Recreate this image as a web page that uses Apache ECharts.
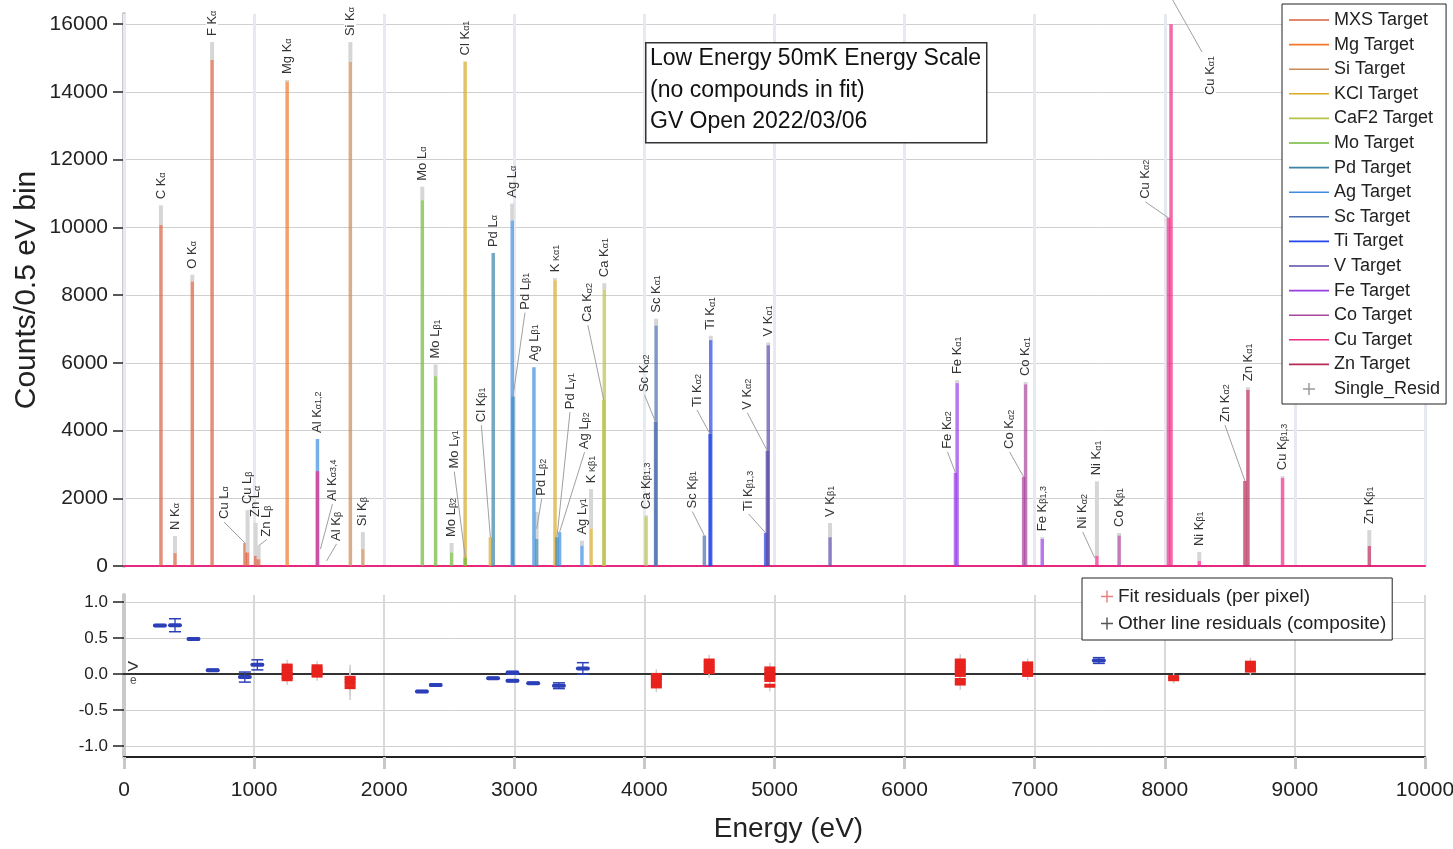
<!DOCTYPE html>
<html><head><meta charset="utf-8">
<script src="https://cdn.jsdelivr.net/npm/echarts@6/dist/echarts.min.js"></script>
<style>html,body{margin:0;padding:0;background:#fff}#c{width:1453px;height:849px}</style>
</head><body><div id="c"></div>
<script>
// ================= DATA =================
const targetNames = ['MXS Target','Mg Target','Si Target','KCl Target','CaF2 Target','Mo Target','Pd Target','Ag Target','Sc Target','Ti Target','V Target','Fe Target','Co Target','Cu Target','Zn Target'];
// peaks: [energy (eV), counts per 0.5 eV bin, fit-marker top (counts) or null]
const mxsPeaks  = [[284,10070,10650],[392,380,885],[525,8400,8600],[677,14940,15470],[930,680,null],[950,400,1650],[1012,300,1270],[1035,200,600]];
const mgPeaks   = [[1254,14300,14350]];
const siPeaks   = [[1740,14880,15470],[1836,500,1000]];
const kclPeaks  = [[2622,14900,null],[2816,850,null],[3313,8440,8500],[3590,1100,2270]];
const caf2Peaks = [[3688,4900,null],[3692,8150,8350],[4013,1450,1500]];
const moPeaks   = [[2293,10800,11200],[2395,5600,5950],[2518,400,680],[2623,250,null]];
const pdPeaks   = [[2838,9240,null],[2990,5000,null],[3172,800,1600],[3328,850,null]];
const agPeaks   = [[1487,3750,null],[2984,10200,10700],[3151,5870,null],[3348,1000,null],[3520,600,750]];
const scPeaks   = [[4086,4250,null],[4090,7100,7300],[4461,900,null]];
const tiPeaks   = [[4504,3900,null],[4510,6670,6800],[4932,975,null]];
const vPeaks    = [[4945,3400,null],[4952,6520,6600],[5427,850,1270]];
const fePeaks   = [[6391,2750,null],[6404,5400,5490],[7058,800,850]];
const coPeaks   = [[6915,2630,null],[6930,5370,5430],[7649,900,975]];
const cuPeaks   = [[1487,2800,null],[7478,300,2500],[8028,10280,null],[8048,16000,null],[8265,150,410],[8905,2600,2650]];
const znPeaks   = [[8616,2510,null],[8639,5200,5280],[9572,590,1060]];

// line labels: [energy, anchor counts, text]
const lineLabels = [
 [284,10650,'C Kα'],[392,885,'N Kα'],[525,8600,'O Kα'],[677,15470,'F Kα'],
 [930,680,'Cu Lα'],[950,1650,'Cu Lβ'],[1012,1270,'Zn Lα'],[1035,600,'Zn Lβ'],
 [1254,14350,'Mg Kα'],[1487,3750,'Al Kα1,2'],[1510,500,'Al Kα3,4'],[1557,150,'Al Kβ'],
 [1740,15470,'Si Kα'],[1836,1000,'Si Kβ'],
 [2293,11200,'Mo Lα'],[2395,5950,'Mo Lβ1'],[2518,680,'Mo Lβ2'],[2623,250,'Mo Lγ1'],
 [2622,14900,'Cl Kα1'],[2816,850,'Cl Kβ1'],
 [2838,9240,'Pd Lα'],[2984,10700,'Ag Lα'],[2990,5000,'Pd Lβ1'],[3151,5870,'Ag Lβ1'],
 [3172,1100,'Pd Lβ2'],[3313,8500,'K Kα1'],[3328,850,'Pd Lγ1'],[3348,1000,'Ag Lβ2'],
 [3520,750,'Ag Lγ1'],[3590,2270,'K Kβ1'],[3688,4900,'Ca Kα2'],[3692,8350,'Ca Kα1'],
 [4013,1500,'Ca Kβ1,3'],[4086,4250,'Sc Kα2'],[4090,7300,'Sc Kα1'],[4461,900,'Sc Kβ1'],
 [4504,3900,'Ti Kα2'],[4510,6800,'Ti Kα1'],[4932,975,'Ti Kβ1,3'],
 [4945,3400,'V Kα2'],[4952,6600,'V Kα1'],[5427,1270,'V Kβ1'],
 [6391,2750,'Fe Kα2'],[6404,5490,'Fe Kα1'],[6915,2630,'Co Kα2'],[6930,5430,'Co Kα1'],
 [7058,850,'Fe Kβ1,3'],[7461,240,'Ni Kα2'],[7478,2500,'Ni Kα1'],[7649,975,'Co Kβ1'],
 [8028,10280,'Cu Kα2'],[8048,16800,'Cu Kα1'],[8265,410,'Ni Kβ1'],
 [8616,2510,'Zn Kα2'],[8639,5280,'Zn Kα1'],[8905,2650,'Cu Kβ1,3'],[9572,1060,'Zn Kβ1']
];

// residuals, other lines (composite): [energy, residual, error]
const otherResid = [[276,0.676,0.012],[392,0.68,0.09],[534,0.49,0.012],[682,0.056,0.012],[929,-0.04,0.07],[1025,0.13,0.07],
  [2290,-0.24,0.012],[2396,-0.15,0.012],[2837,-0.056,0.012],[2986,0.02,0.02],[2986,-0.09,0.012],[3145,-0.125,0.012],
  [3343,-0.16,0.04],[3527,0.08,0.08],[7493,0.19,0.04]];
// residuals, fit (per pixel): one energy per fitted line, list of per-pixel residuals, error
const fitResidEnergy = [1254,1484,1738,4092,4498,4964,6428,6946,8068,8658];
const fitResidValues = [[0.12,0.08,0.04,0,-0.04,-0.07],[0.11,0.07,0.04,0.01,-0.02],[-0.05,-0.09,-0.13,-0.18],
  [-0.01,-0.05,-0.09,-0.13,-0.17],[0.19,0.15,0.11,0.07,0.03],[0.08,0.04,0,-0.04,-0.08,-0.16],
  [0.19,0.15,0.11,0.07,0.03,-0.01,-0.08,-0.13],[0.15,0.11,0.07,0.03,-0.01],[-0.04,-0.07],[0.16,0.12,0.08,0.05]];
const fitResidError = [0.08,0.07,0.18,0.08,0.08,0.08,0.09,0.07,0.06,0.07];

const countTicks = [0,2000,4000,6000,8000,10000,12000,14000,16000];
const residTicks = [-1,-0.5,0,0.5,1];

// ================= STYLE / LAYOUT =================
const targetPeaks = [mxsPeaks,mgPeaks,siPeaks,kclPeaks,caf2Peaks,moPeaks,pdPeaks,agPeaks,scPeaks,tiPeaks,vPeaks,fePeaks,coPeaks,cuPeaks,znPeaks];
const targetColors = ['#d8603f','#f07a2a','#c98a55','#d9a827','#b9c24a','#6fb83a','#3a84a8','#3d8ee0','#4a6fb0','#2545e8','#5a4aa8','#9a3fe6','#a8459e','#ee2a86','#b82a55'];
const FONT = '"Liberation Sans", Arial, sans-serif';
// label start offset (px) from anchor, optional leader end offset
const leaderLayout = {
 'Cu Lα':[-21,-23],'Zn Lβ':[8,-8],'Al Kα3,4':[12,-47],'Al Kβ':[10,-19],'Mo Lγ1':[-11,-88],
 'Cl Kβ1':[-9,-114],'Pd Lβ1':[12,-86],'Pd Lβ2':[5,-32],'Pd Lγ1':[13,-127],'Ag Lβ2':[25,-82],
 'Ca Kα2':[-16,-77],'Sc Kα2':[-11,-29],'Sc Kβ1':[-12,-26],'Ti Kα2':[-13,-26],'Ti Kβ1,3':[-17,-21],
 'V Kα2':[-20,-40],'Fe Kα2':[-8,-23],'Co Kα2':[-14,-27],'Ni Kα2':[-12,-28],'Cu Kα2':[-23,-18],
 'Cu Kα1':[39,99,31,55],'Zn Kα2':[-20,-58]
};
function splitLabel(s){ const m = s.match(/^(.*?[KL])(.*)$/); return m ? [m[1], m[2]] : [s, '']; }

function peakRenderer(color){
  return function(params, api){
    const e = api.value(0), h = api.value(1), t = api.value(2);
    const base = api.coord([e, 0]), top = api.coord([e, h]);
    const children = [];
    if (isFinite(t) && t > h) {
      const st = api.coord([e, t]);
      children.push({type:'line', shape:{x1:st[0],y1:st[1],x2:top[0],y2:top[1]}, style:{stroke:'#d6d6d6', lineWidth:4}});
    }
    children.push({type:'line', shape:{x1:base[0],y1:base[1],x2:top[0],y2:top[1]}, style:{stroke:color, lineWidth:3.5, opacity:0.7}});
    return {type:'group', children};
  };
}
function labelRender(params, api){
  const item = lineLabels[params.dataIndex];
  const p = api.coord([api.value(0), api.value(1)]);
  const lay = leaderLayout[item[2]];
  const parts = splitLabel(item[2]);
  const children = [];
  let lx = p[0], ly = p[1] - 5;
  if (lay) {
    lx = p[0] + lay[0]; ly = p[1] + lay[1];
    const ex = lay.length > 2 ? p[0] + lay[2] : lx;
    const ey = lay.length > 2 ? p[1] + lay[3] : ly + 2;
    children.push({type:'line', shape:{x1:p[0],y1:p[1],x2:ex,y2:ey}, style:{stroke:'#a0a0a0', lineWidth:1}});
  }
  const nearTop = p[1] < 60;
  children.push({type:'text', x:lx, y:ly, rotation:Math.PI/2, style:{
    text:'{m|' + parts[0] + '}{s|' + parts[1] + '}', align:'left', verticalAlign:'middle',
    backgroundColor: nearTop ? '#fff' : 'transparent', padding:[0,1,0,1],
    rich:{ m:{fontSize:13, fontFamily:FONT, fill:'#333', color:'#333', lineHeight:12},
           s:{fontSize:9, fontFamily:FONT, fill:'#333', color:'#333', lineHeight:12, verticalAlign:'bottom'} }
  }});
  return {type:'group', children};
}
function otherResidRender(params, api){
  const e = api.value(0), v = api.value(1), err = api.value(2);
  const c = api.coord([e, v]), lo = api.coord([e, v - err]), hi = api.coord([e, v + err]);
  const col = '#2b3fb8';
  return {type:'group', children:[
    {type:'line', shape:{x1:c[0],y1:hi[1],x2:c[0],y2:lo[1]}, style:{stroke:col, lineWidth:1.3}},
    {type:'line', shape:{x1:c[0]-6,y1:hi[1],x2:c[0]+6,y2:hi[1]}, style:{stroke:col, lineWidth:1.5}},
    {type:'line', shape:{x1:c[0]-6,y1:lo[1],x2:c[0]+6,y2:lo[1]}, style:{stroke:col, lineWidth:1.5}},
    {type:'rect', shape:{x:c[0]-7,y:c[1]-2,width:14,height:4,r:2}, style:{fill:col}}
  ]};
}
function fitErrRender(params, api){
  const e = api.value(0), v = api.value(1), err = api.value(2);
  const lo = api.coord([e, v - err]), hi = api.coord([e, v + err]);
  return {type:'line', shape:{x1:lo[0],y1:lo[1],x2:hi[0],y2:hi[1]}, style:{stroke:'#cfcfcf', lineWidth:1.5}};
}
function fitRender(params, api){
  const c = api.coord([api.value(0), api.value(1)]);
  return {type:'rect', shape:{x:c[0]-5.5,y:c[1]-2,width:11,height:4}, style:{fill:'#e8221c'}};
}

const fitPoints = [];
fitResidEnergy.forEach((e, i) => fitResidValues[i].forEach(v => fitPoints.push([e, v, fitResidError[i]])));

const plusIcon = 'path://M4.4,0h1.2v4.4h4.4v1.2h-4.4v4.4h-1.2v-4.4h-4.4v-1.2h4.4z';
const lineIcon = 'path://M0,0h40v1.6h-40z';

const series = targetNames.map((n, i) => ({
  name:n, type:'custom', xAxisIndex:0, yAxisIndex:0, renderItem:peakRenderer(targetColors[i]),
  itemStyle:{color:targetColors[i]}, data:targetPeaks[i], encode:{x:0, y:1}, z:2 + i * 0.01, silent:true
}));
series.push({name:'Single_Resid', type:'custom', xAxisIndex:0, yAxisIndex:0, itemStyle:{color:'#9a9a9a'},
  renderItem:()=>null, data:[]});
series.push({name:'labels', type:'custom', xAxisIndex:0, yAxisIndex:0, renderItem:labelRender, clip:false,
  data:lineLabels.map(l => [l[0], l[1]]), encode:{x:0, y:1}, z:5, silent:true});
series.push({name:'fitErr', type:'custom', xAxisIndex:2, yAxisIndex:1, renderItem:fitErrRender,
  data:fitPoints, encode:{x:0, y:1}, z:3, silent:true});
series.push({name:'Fit residuals (per pixel)', type:'custom', xAxisIndex:2, yAxisIndex:1, renderItem:fitRender,
  itemStyle:{color:'#e8221c'}, data:fitPoints, encode:{x:0, y:1}, z:4, silent:true});
series.push({name:'Other line residuals (composite)', type:'custom', xAxisIndex:2, yAxisIndex:1, renderItem:otherResidRender,
  itemStyle:{color:'#2b3fb8'}, data:otherResid, encode:{x:0, y:1}, z:4, silent:true});

const plain = v => String(v);
const option = {
  animation:false,
  backgroundColor:'#fff',
  textStyle:{fontFamily:FONT},
  grid:[
    {left:124, right:28, top:14, height:552, outerBoundsMode:'none', containLabel:false},
    {left:124, right:28, top:595, height:162, outerBoundsMode:'none', containLabel:false}
  ],
  xAxis:[
    {gridIndex:0, type:'value', min:0, max:10000, interval:1000,
     axisLine:{show:true, onZero:false, lineStyle:{color:'#e8277f', width:2}}, axisTick:{show:false}, axisLabel:{show:false},
     splitLine:{show:true, lineStyle:{color:'#e6eaf0', width:3}}, z:1},
    {gridIndex:0, type:'value', position:'top', min:0, max:10000,
     axisLine:{show:true, lineStyle:{color:'#222', width:1.5}}, axisTick:{show:false}, axisLabel:{show:false}, splitLine:{show:false}},
    {gridIndex:1, type:'value', min:0, max:10000, interval:1000, position:'bottom',
     axisLine:{show:true, onZero:false, lineStyle:{color:'#222', width:2}},
     axisTick:{show:true, length:12, lineStyle:{color:'#c8c8c8', width:3}},
     axisLabel:{show:true, fontSize:21, color:'#222', margin:23, fontFamily:FONT, formatter:plain},
     splitLine:{show:true, lineStyle:{color:'#d9d9d9', width:2}},
     name:'Energy (eV)', nameLocation:'middle', nameGap:58, nameMoveOverlap:false,
     nameTextStyle:{fontSize:28, color:'#222', fontFamily:FONT, padding:[0,0,0,28]}},
    {gridIndex:1, type:'value', min:0, max:10000,
     axisLine:{show:true, onZero:true, lineStyle:{color:'#333', width:2}}, axisTick:{show:false}, axisLabel:{show:false}, splitLine:{show:false}}
  ],
  yAxis:[
    {gridIndex:0, type:'value', min:0, max:16300,
     axisLine:{show:true, lineStyle:{color:'#c9c9c9', width:4}},
     axisTick:{show:true, length:11, lineStyle:{color:'#222', width:1.5}, customValues:countTicks},
     axisLabel:{show:true, fontSize:21, color:'#222', margin:16, customValues:countTicks, fontFamily:FONT, formatter:plain},
     splitLine:{show:true, lineStyle:{color:'#d0d0d0', width:1}},
     name:'Counts/0.5 eV bin', nameLocation:'middle', nameGap:82, nameMoveOverlap:false,
     nameTextStyle:{fontSize:30, color:'#222', fontFamily:FONT}},
    {gridIndex:1, type:'value', min:-1.15, max:1.1,
     axisLine:{show:true, lineStyle:{color:'#c9c9c9', width:4}},
     axisTick:{show:true, length:11, lineStyle:{color:'#222', width:1.5}, customValues:residTicks},
     axisLabel:{show:true, fontSize:17, color:'#222', margin:16, customValues:residTicks, formatter:v => v.toFixed(1), fontFamily:FONT},
     splitLine:{show:true, lineStyle:{color:'#d0d0d0', width:1}}}
  ],
  legend:[
    {orient:'vertical', left:1282, top:4, selectedMode:false, backgroundColor:'#fff', borderColor:'#222', borderWidth:1,
     padding:[7,6,6,7], itemWidth:40, itemHeight:12, itemGap:6.6, textStyle:{fontSize:18, lineHeight:18, color:'#222', fontFamily:FONT},
     data:targetNames.map(n => ({name:n, icon:lineIcon})).concat([{name:'Single_Resid', icon:plusIcon, itemStyle:{color:'#9a9a9a'}}]),
     itemStyle:{borderWidth:0}},
    {orient:'vertical', left:1082, top:578, selectedMode:false, backgroundColor:'#fff', borderColor:'#222', borderWidth:1,
     padding:[9,6,7,19], itemWidth:12, itemHeight:12, itemGap:8, textStyle:{fontSize:19, lineHeight:17, color:'#222', fontFamily:FONT},
     data:[{name:'Fit residuals (per pixel)', icon:plusIcon, itemStyle:{color:'#e88080'}},
           {name:'Other line residuals (composite)', icon:plusIcon, itemStyle:{color:'#555'}}]}
  ],
  graphic:[
    {type:'rect', left:645, top:42, z:100, shape:{width:341,height:100}, style:{fill:'#fff', stroke:'#333', lineWidth:1.5}},
    {type:'text', left:650, top:47, z:101, style:{text:'Low Energy 50mK Energy Scale', fontSize:23, fontFamily:FONT, fill:'#111'}},
    {type:'text', left:650, top:79, z:101, style:{text:'(no compounds in fit)', fontSize:23, fontFamily:FONT, fill:'#111'}},
    {type:'text', left:650, top:110, z:101, style:{text:'GV Open 2022/03/06', fontSize:23, fontFamily:FONT, fill:'#111'}},
    {type:'text', left:127, top:657, z:101, style:{text:'>', fontSize:20, fontFamily:FONT, fill:'#333'}},
    {type:'text', left:130, top:675, z:101, style:{text:'e', fontSize:12, fontFamily:FONT, fill:'#555'}}
  ],
  series
};
const chart = echarts.init(document.getElementById('c'));
chart.setOption(option);
</script>
</body></html>
